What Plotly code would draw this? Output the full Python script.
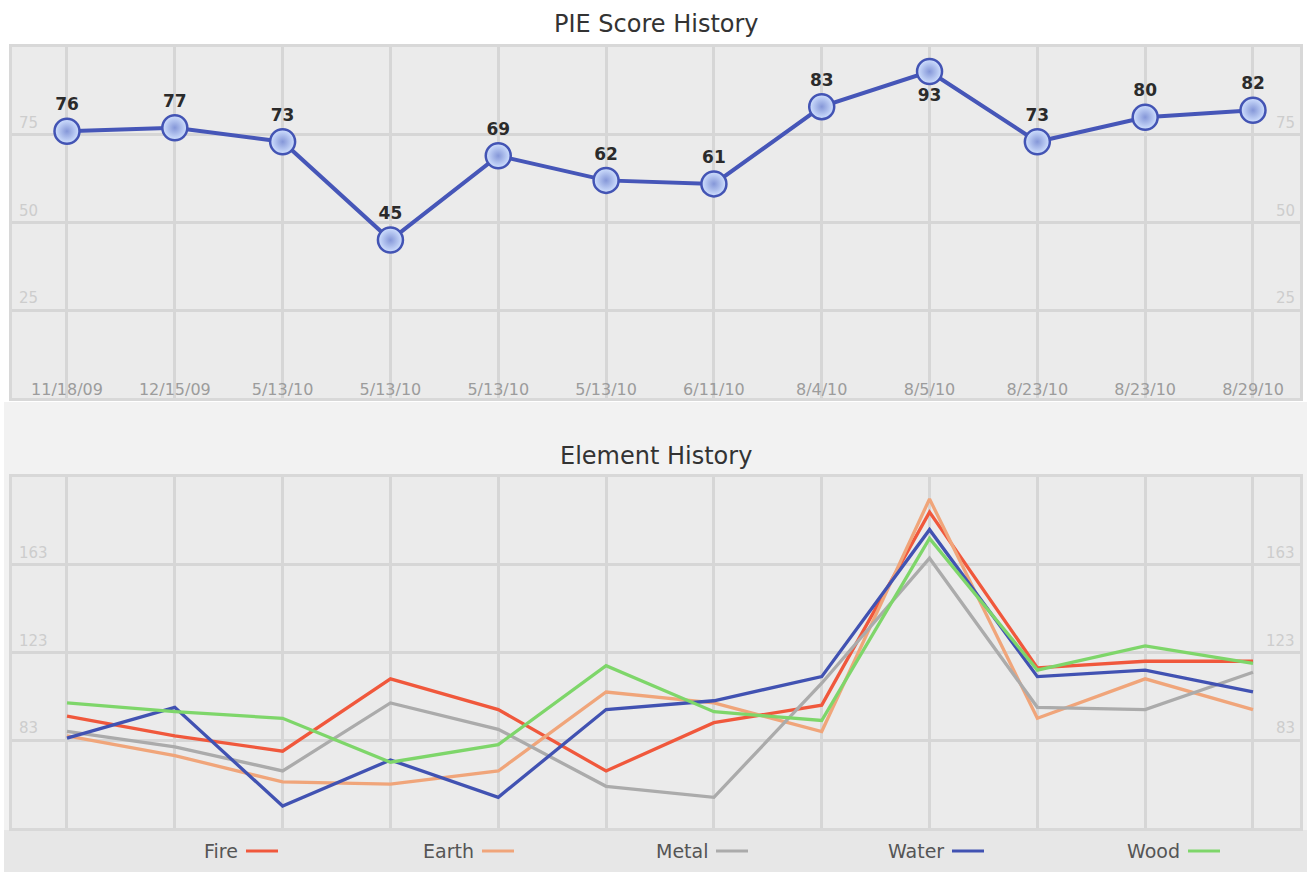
import plotly.graph_objects as go

# ---------------- data ----------------
dates = ["11/18/09", "12/15/09", "5/13/10", "5/13/10", "5/13/10", "5/13/10",
         "6/11/10", "8/4/10", "8/5/10", "8/23/10", "8/23/10", "8/29/10"]
pie_score = [76, 77, 73, 45, 69, 62, 61, 83, 93, 73, 80, 82]

fire = [94, 85, 78, 111, 97, 69, 91, 99, 187, 116, 119, 119]
earth = [85, 76, 64, 63, 69, 105, 100, 87, 193, 93, 111, 97]
metal = [87, 80, 69, 100, 88, 62, 57, 109, 166, 98, 97, 114]
water = [84, 98, 53, 74, 57, 97, 101, 112, 179, 112, 115, 105]
wood = [100, 96, 93, 73, 81, 117, 96, 92, 175, 115, 126, 118]

pie_ticks = [25, 50, 75]
elem_ticks = [83, 123, 163]
elem_range = [43, 203]

series_names = ["Fire", "Earth", "Metal", "Water", "Wood"]
series_values = [fire, earth, metal, water, wood]
series_colors = ["#f0583c", "#f0a57a", "#ababab", "#4152b2", "#7ed66a"]

# ---------------- layout helpers ----------------
W, H = 1307, 872
def px_x(p):
    return p / W
def px_y(p):
    return 1 - p / H

xi = list(range(len(dates)))
FONT = "DejaVu Sans, Verdana, sans-serif"
GRID = "#d6d6d6"
PLOT_BG = "#ebebeb"

fig = go.Figure()

# Top: PIE score
label_pos = ["bottom center" if v == max(pie_score) else "top center" for v in pie_score]
fig.add_trace(go.Scatter(
    x=xi, y=pie_score, mode="lines+markers+text",
    text=[str(v) for v in pie_score], textposition=label_pos,
    textfont=dict(family=FONT, size=17, color="#2b2b2b", weight="bold"),
    line=dict(color="#4656b8", width=4),
    marker=dict(size=25, color="#d2e2ff",
                gradient=dict(type="radial", color="#8597d8"),
                line=dict(color="#4354b4", width=2.5)),
    xaxis="x", yaxis="y", showlegend=False, cliponaxis=False,
    hoverinfo="skip"))

# Bottom: element history
for name, vals, col in zip(series_names, series_values, series_colors):
    fig.add_trace(go.Scatter(
        x=xi, y=vals, mode="lines", name=name,
        line=dict(color=col, width=3.3),
        xaxis="x2", yaxis="y2", showlegend=False))

xrange_ = [-0.51, len(dates) - 1 + 0.436]
xdom = [px_x(12), px_x(1300)]

axis_common = dict(showline=True, mirror=True, linecolor="#d8d8d8", linewidth=3,
                   showgrid=True, gridcolor=GRID, gridwidth=3, zeroline=False,
                   fixedrange=True)

fig.update_layout(
    width=W, height=H,
    margin=dict(l=0, r=0, t=0, b=0),
    paper_bgcolor="#ffffff",
    plot_bgcolor=PLOT_BG,
    font=dict(family=FONT),
    xaxis=dict(domain=xdom, range=xrange_, tickmode="array", tickvals=xi,
               ticktext=dates, ticklabelposition="inside", ticks="",
               tickfont=dict(size=16, color="#9c9c9c"), anchor="y",
               **axis_common),
    yaxis=dict(domain=[px_y(398), px_y(47)], range=[0, 100], tickmode="array",
               tickvals=pie_ticks, showticklabels=False, anchor="x",
               **axis_common),
    xaxis2=dict(domain=xdom, range=xrange_, tickmode="array", tickvals=xi,
                showticklabels=False, ticks="", anchor="y2", **axis_common),
    yaxis2=dict(domain=[px_y(828), px_y(477)], range=elem_range, tickmode="array",
                tickvals=elem_ticks, showticklabels=False, anchor="x2",
                **axis_common),
)

# background panels
shapes = [
    dict(type="rect", xref="paper", yref="paper", x0=px_x(4), x1=1,
         y0=0, y1=px_y(402), fillcolor="#f2f2f2", line=dict(width=0), layer="below"),
    dict(type="rect", xref="paper", yref="paper", x0=px_x(4), x1=1,
         y0=0, y1=px_y(830), fillcolor="#e7e7e7", line=dict(width=0), layer="below"),
    dict(type="rect", xref="x2 domain", yref="y2 domain", x0=0, x1=1, y0=0, y1=1,
         fillcolor=PLOT_BG, line=dict(width=0), layer="below"),
]

annotations = [
    dict(text="PIE Score History", xref="paper", yref="paper", x=px_x(656), y=px_y(24),
         xanchor="center", yanchor="middle",
         showarrow=False, font=dict(size=24, color="#333333", family=FONT)),
    dict(text="Element History", xref="paper", yref="paper", x=px_x(656), y=px_y(456),
         xanchor="center", yanchor="middle",
         showarrow=False, font=dict(size=24, color="#333333", family=FONT)),
]

# y tick labels (inside, above gridlines, both sides)
for yref, ticks in (("y", pie_ticks), ("y2", elem_ticks)):
    for t in ticks:
        annotations.append(dict(text=str(t), xref="paper", yref=yref, x=px_x(17), y=t,
                                xanchor="left", yanchor="bottom", yshift=1, showarrow=False,
                                font=dict(size=15, color="#cdcdcd", family=FONT)))
        annotations.append(dict(text=str(t), xref="paper", yref=yref, x=px_x(1297), y=t,
                                xanchor="right", yanchor="bottom", yshift=1, showarrow=False,
                                font=dict(size=15, color="#cdcdcd", family=FONT)))

# custom legend: label then swatch
leg_start = [246, 482, 716, 952, 1188]
for name, col, sx in zip(series_names, series_colors, leg_start):
    annotations.append(dict(text=name, xref="paper", yref="paper", x=px_x(sx - 6),
                            y=px_y(851), xanchor="right", yanchor="middle", showarrow=False,
                            font=dict(size=19, color="#555555", family=FONT)))
    shapes.append(dict(type="line", xref="paper", yref="paper", x0=px_x(sx), x1=px_x(sx + 32),
                       y0=px_y(851), y1=px_y(851), line=dict(color=col, width=3)))

fig.update_layout(shapes=shapes, annotations=annotations)

fig.write_html("out.html", config={"displayModeBar": False},
               post_script="document.body.style.margin='0px';document.body.style.padding='0px';")
